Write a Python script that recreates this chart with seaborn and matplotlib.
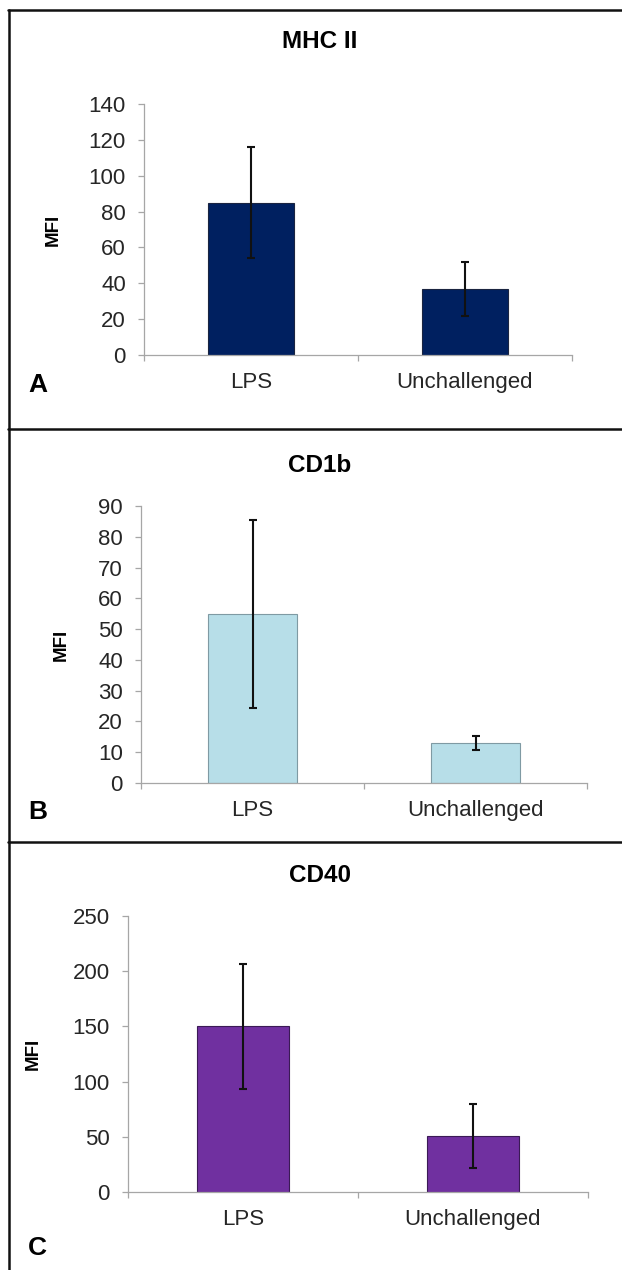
import matplotlib
matplotlib.use("Agg")
import matplotlib.pyplot as plt
from matplotlib.lines import Line2D
from matplotlib.ticker import FixedLocator, MultipleLocator
import seaborn as sns
import pandas as pd

# ---- data ----
categories = ["LPS", "Unchallenged"]
titles = ["MHC II", "CD1b", "CD40"]
letters = ["A", "B", "C"]
mhc_values = [85, 37]
mhc_errors = [31, 15]
cd1b_values = [55, 13]
cd1b_errors = [30.5, 2.3]
cd40_values = [150, 51]
cd40_errors = [56.5, 29]
ylims = [140, 90, 250]
ysteps = [20, 10, 50]

sns.set_theme(style="white")
plt.rcParams["font.family"] = ["Liberation Sans", "DejaVu Sans"]

W, H = 622, 1270
fig = plt.figure(figsize=(W / 100, H / 100), dpi=100)
fig.patch.set_facecolor("white")

def fx(x):
    return x / W

def fy(y):
    return 1 - y / H

# panel layout in pixels: (axis left, right, top, bottom)
boxes = [(144, 572, 104, 355), (141, 587, 506, 783), (128, 588, 916, 1192)]
title_y = [42, 465, 875]
letter_y = [385, 812, 1248]
ylabel_x = [62, 70, 42]
colors = ["#002060", "#B7DEE8", "#7030A0"]
edges = ["#1a2440", "#7f9aa3", "#3a1a55"]
values_list = [mhc_values, cd1b_values, cd40_values]
errors_list = [mhc_errors, cd1b_errors, cd40_errors]

for i in range(3):
    l, r, t, b = boxes[i]
    ax = fig.add_axes([fx(l), fy(b), fx(r) - fx(l), fy(t) - fy(b)])
    df = pd.DataFrame({"cat": categories, "val": values_list[i]})
    sns.barplot(data=df, x="cat", y="val", ax=ax, color=colors[i], width=0.4,
                edgecolor=edges[i], linewidth=0.8, saturation=1, errorbar=None)
    ax.errorbar(range(len(categories)), values_list[i], yerr=errors_list[i],
                fmt="none", ecolor="#111111", elinewidth=1.5, capsize=3.2,
                capthick=1.5, zorder=5)
    ax.set_xlim(-0.5, 1.5)
    ax.set_ylim(0, ylims[i])
    ax.yaxis.set_major_locator(MultipleLocator(ysteps[i]))
    for s in ["top", "right"]:
        ax.spines[s].set_visible(False)
    for s in ["left", "bottom"]:
        ax.spines[s].set_color("#a6a6a6")
        ax.spines[s].set_linewidth(0.9)
    ax.xaxis.set_minor_locator(FixedLocator([-0.5, 0.5, 1.5]))
    ax.tick_params(axis="x", which="major", length=0, pad=12, labelsize=16,
                   labelcolor="#262626")
    ax.tick_params(axis="x", which="minor", length=4, width=0.9,
                   color="#a6a6a6", direction="out", bottom=True)
    ax.tick_params(axis="y", which="major", length=4, width=0.9,
                   color="#a6a6a6", direction="out", left=True, pad=9,
                   labelsize=16, labelcolor="#262626")
    ax.set_xlabel("")
    ax.set_ylabel("MFI", fontsize=13.5, fontweight="bold", color="black")
    ax.yaxis.set_label_coords((ylabel_x[i] - l) / (r - l), 0.5)
    ax.grid(False)
    fig.text(fx(320), fy(title_y[i]), titles[i], ha="center", va="center",
             fontsize=17.5, fontweight="bold", color="black")
    fig.text(fx(28), fy(letter_y[i]), letters[i], ha="left", va="center",
             fontsize=19, fontweight="bold", color="black")

# borders
lw = 1.8
fig.add_artist(Line2D([fx(8), 1], [fy(9.5), fy(9.5)], color="#111111", lw=lw))
fig.add_artist(Line2D([fx(8.5), fx(8.5)], [fy(9.5), 0], color="#111111", lw=lw))
fig.add_artist(Line2D([fx(8), 1], [fy(428.5), fy(428.5)], color="#111111", lw=lw))
fig.add_artist(Line2D([fx(8), 1], [fy(841.5), fy(841.5)], color="#111111", lw=lw))

fig.savefig("out.png", dpi=100, facecolor="white")
